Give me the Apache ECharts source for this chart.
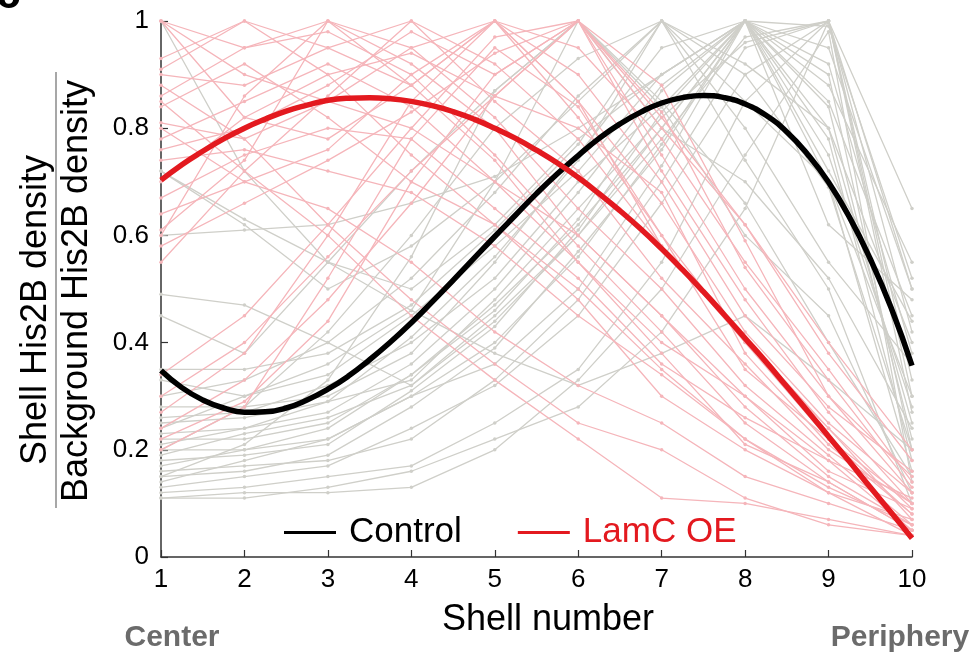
<!DOCTYPE html>
<html>
<head>
<meta charset="utf-8">
<script src="https://cdn.jsdelivr.net/npm/echarts@6/dist/echarts.min.js"></script>
<style>
html,body{margin:0;padding:0;background:#fff;}
#chart{width:976px;height:659px;}
</style>
</head>
<body>
<div id="chart"></div>
<script>
// ---- data ----
const shellNumbers = [1, 2, 3, 4, 5, 6, 7, 8, 9, 10];
const yTicks = [0, 0.2, 0.4, 0.6, 0.8, 1];

// individual control nuclei (grey)
const controlTraces = [
  [1.00, 0.72, 0.55, 0.50, 0.62, 0.78, 0.90, 1.00, 0.85, 0.45],
  [0.72, 0.62, 0.50, 0.58, 0.70, 0.85, 1.00, 0.92, 0.80, 0.40],
  [0.60, 0.61, 0.62, 0.66, 0.71, 0.80, 0.90, 1.00, 0.95, 0.50],
  [0.49, 0.47, 0.40, 0.32, 0.44, 0.60, 0.80, 1.00, 0.90, 0.20],
  [0.35, 0.35, 0.38, 0.47, 0.61, 0.77, 1.00, 0.85, 0.70, 0.30],
  [0.33, 0.30, 0.34, 0.45, 0.58, 0.72, 0.90, 1.00, 0.62, 0.48],
  [0.30, 0.33, 0.40, 0.52, 0.68, 0.86, 1.00, 0.80, 0.55, 0.36],
  [0.28, 0.28, 0.30, 0.38, 0.55, 0.75, 0.95, 1.00, 0.72, 0.44],
  [0.26, 0.27, 0.32, 0.40, 0.52, 0.70, 0.84, 1.00, 0.99, 0.52],
  [0.25, 0.26, 0.29, 0.33, 0.48, 0.65, 0.82, 0.96, 1.00, 0.65],
  [0.23, 0.24, 0.27, 0.36, 0.50, 0.68, 0.88, 1.00, 0.75, 0.28],
  [0.22, 0.22, 0.25, 0.34, 0.47, 0.62, 0.80, 1.00, 0.84, 0.22],
  [0.21, 0.24, 0.29, 0.41, 0.56, 0.74, 1.00, 0.90, 0.69, 0.20],
  [0.20, 0.20, 0.22, 0.30, 0.40, 0.56, 0.77, 1.00, 0.88, 0.55],
  [0.19, 0.23, 0.26, 0.32, 0.45, 0.60, 0.78, 0.97, 1.00, 0.50],
  [0.18, 0.19, 0.21, 0.31, 0.43, 0.61, 0.83, 1.00, 0.80, 0.25],
  [0.17, 0.20, 0.24, 0.34, 0.46, 0.63, 0.87, 1.00, 0.70, 0.16],
  [0.16, 0.17, 0.18, 0.22, 0.33, 0.48, 0.70, 0.95, 1.00, 0.42],
  [0.15, 0.16, 0.19, 0.28, 0.39, 0.57, 0.76, 1.00, 0.78, 0.18],
  [0.14, 0.18, 0.22, 0.30, 0.36, 0.50, 0.73, 1.00, 0.92, 0.38],
  [0.13, 0.15, 0.17, 0.24, 0.32, 0.45, 0.66, 0.90, 1.00, 0.30],
  [0.12, 0.13, 0.15, 0.17, 0.25, 0.35, 0.55, 0.85, 1.00, 0.33],
  [0.11, 0.12, 0.12, 0.13, 0.20, 0.33, 0.50, 0.75, 0.98, 0.14],
  [0.11, 0.11, 0.13, 0.16, 0.22, 0.28, 0.42, 0.65, 1.00, 0.27],
  [0.24, 0.30, 0.36, 0.46, 0.70, 1.00, 0.84, 0.60, 0.45, 0.12],
  [0.20, 0.28, 0.42, 0.60, 0.80, 0.93, 1.00, 0.74, 0.50, 0.10],
  [0.15, 0.21, 0.33, 0.56, 0.87, 1.00, 0.85, 0.66, 0.40, 0.15],
  [0.45, 0.38, 0.55, 0.72, 0.87, 1.00, 0.80, 0.70, 0.52, 0.24],
  [0.72, 0.63, 0.55, 0.46, 0.38, 0.32, 0.38, 0.45, 0.33, 0.20]
];

// individual LamC OE nuclei (pink)
const lamcTraces = [
  [1.00, 0.90, 0.85, 0.80, 0.70, 0.55, 0.40, 0.30, 0.18, 0.05],
  [1.00, 0.95, 1.00, 0.92, 0.80, 0.60, 0.45, 0.28, 0.15, 0.06],
  [1.00, 0.82, 0.78, 0.88, 1.00, 0.82, 0.60, 0.35, 0.22, 0.08],
  [0.91, 1.00, 0.90, 0.75, 0.62, 0.50, 0.35, 0.22, 0.12, 0.04],
  [0.90, 0.88, 0.95, 1.00, 0.85, 0.72, 0.52, 0.36, 0.20, 0.10],
  [0.86, 0.95, 0.98, 0.90, 0.75, 0.58, 0.42, 0.25, 0.14, 0.05],
  [0.84, 0.92, 0.82, 0.70, 0.62, 0.48, 0.30, 0.20, 0.12, 0.07],
  [0.81, 0.78, 0.85, 0.95, 1.00, 0.85, 0.66, 0.42, 0.25, 0.12],
  [0.78, 0.85, 0.92, 0.84, 0.70, 0.60, 0.45, 0.30, 0.16, 0.09],
  [0.76, 0.80, 0.88, 0.98, 0.90, 1.00, 0.75, 0.50, 0.30, 0.15],
  [0.74, 0.76, 0.72, 0.68, 0.58, 0.45, 0.34, 0.22, 0.13, 0.06],
  [0.70, 0.82, 0.90, 0.94, 0.86, 0.80, 0.68, 0.38, 0.21, 0.08],
  [0.67, 0.75, 0.80, 0.78, 0.65, 0.52, 0.36, 0.26, 0.18, 0.11],
  [0.64, 0.70, 0.76, 0.90, 1.00, 0.95, 0.78, 0.55, 0.35, 0.14],
  [0.61, 0.74, 1.00, 0.95, 0.82, 0.65, 0.50, 0.32, 0.19, 0.06],
  [0.58, 0.66, 0.74, 0.83, 0.94, 1.00, 0.72, 0.48, 0.27, 0.10],
  [0.55, 0.72, 0.86, 1.00, 0.92, 0.78, 0.58, 0.40, 0.24, 0.09],
  [0.60, 0.86, 1.00, 0.88, 0.74, 0.55, 0.38, 0.21, 0.14, 0.05],
  [0.34, 0.45, 0.62, 0.80, 0.97, 1.00, 0.80, 0.62, 0.38, 0.18],
  [0.30, 0.40, 0.56, 0.72, 0.86, 1.00, 0.88, 0.59, 0.30, 0.12],
  [0.27, 0.38, 0.60, 0.85, 1.00, 0.90, 0.70, 0.45, 0.28, 0.16],
  [0.24, 0.33, 0.48, 0.66, 0.86, 1.00, 0.82, 0.62, 0.40, 0.20],
  [0.22, 0.29, 0.44, 0.70, 0.90, 1.00, 0.83, 0.54, 0.33, 0.13],
  [0.20, 0.28, 0.52, 0.78, 0.95, 0.84, 0.60, 0.40, 0.22, 0.10],
  [0.85, 0.72, 0.60, 0.45, 0.33, 0.22, 0.11, 0.10, 0.07, 0.04],
  [0.88, 0.78, 0.62, 0.48, 0.36, 0.25, 0.20, 0.11, 0.06, 0.04],
  [0.80, 0.70, 0.65, 0.55, 0.42, 0.32, 0.25, 0.15, 0.10, 0.05],
  [0.93, 1.00, 0.95, 0.88, 1.00, 0.85, 0.58, 0.41, 0.24, 0.07]
];

// fitted mean curves, read at quarter-shell steps
const fitX = [1, 1.25, 1.5, 1.75, 2, 2.25, 2.5, 2.75, 3, 3.25, 3.5, 3.75, 4, 4.25, 4.5, 4.75, 5,
  5.25, 5.5, 5.75, 6, 6.25, 6.5, 6.75, 7, 7.25, 7.5, 7.75, 8, 8.25, 8.5, 8.75, 9, 9.25, 9.5, 9.75, 10];
const controlFit = [0.348, 0.316, 0.293, 0.278, 0.270, 0.271, 0.278, 0.293, 0.313, 0.338, 0.368, 0.401,
  0.437, 0.476, 0.516, 0.557, 0.598, 0.638, 0.678, 0.715, 0.749, 0.781, 0.808, 0.830, 0.847, 0.857,
  0.861, 0.857, 0.845, 0.824, 0.793, 0.751, 0.699, 0.634, 0.556, 0.465, 0.357];
const lamcFit = [0.703, 0.732, 0.757, 0.780, 0.800, 0.817, 0.832, 0.843, 0.852, 0.856, 0.857, 0.855,
  0.850, 0.842, 0.831, 0.817, 0.800, 0.781, 0.759, 0.735, 0.708, 0.678, 0.646, 0.612, 0.575, 0.536,
  0.495, 0.452, 0.408, 0.364, 0.318, 0.272, 0.225, 0.178, 0.130, 0.083, 0.035];

// ---- chart ----
const FONT = 'Liberation Sans, Arial, Helvetica, sans-serif';
const GREY = '#cfcfc9';
const PINK = '#f5b5ba';
const RED = '#e3191f';

function traceSeries(trace, i, color, prefix) {
  return {
    name: prefix + i,
    type: 'line',
    data: shellNumbers.map((x, k) => [x, trace[k]]),
    lineStyle: { color: color, width: 1.3 },
    itemStyle: { color: color },
    symbol: 'circle',
    symbolSize: 3.5,
    showSymbol: true,
    silent: true,
    z: 2
  };
}

const series = [];
controlTraces.forEach((t, i) => series.push(traceSeries(t, i, GREY, 'ctrl-')));
lamcTraces.forEach((t, i) => series.push(traceSeries(t, i, PINK, 'lamc-')));
series.push({
  name: 'Control', type: 'line', smooth: true, showSymbol: false,
  data: fitX.map((x, k) => [x, controlFit[k]]),
  lineStyle: { color: '#000', width: 5.5 }, itemStyle: { color: '#000' }, z: 5
});
series.push({
  name: 'LamC OE', type: 'line', smooth: true, showSymbol: false,
  data: fitX.map((x, k) => [x, lamcFit[k]]),
  lineStyle: { color: RED, width: 5.5 }, itemStyle: { color: RED }, z: 5
});

const chart = echarts.init(document.getElementById('chart'), null, { renderer: 'canvas' });
chart.setOption({
  animation: false,
  backgroundColor: '#fff',
  textStyle: { fontFamily: FONT },
  grid: { left: 161, right: 64, top: 21, bottom: 102, containLabel: false },
  legend: {
    left: 284, top: 515, padding: 0,
    data: [
      { name: 'Control', textStyle: { color: '#000' } },
      { name: 'LamC OE', textStyle: { color: RED } }
    ],
    icon: 'rect', itemWidth: 52, itemHeight: 3, itemGap: 56,
    textStyle: { fontSize: 35, fontFamily: FONT, padding: [0, 0, 0, 8] },
    selectedMode: false
  },
  xAxis: {
    type: 'value', min: 1, max: 10, interval: 1,
    axisLine: { show: true, lineStyle: { color: '#333', width: 1.5 } },
    axisTick: { show: true, inside: true, length: 7, lineStyle: { color: '#333', width: 1.2 } },
    axisLabel: { color: '#000', fontSize: 26, margin: 10, fontFamily: FONT },
    splitLine: { show: false }
  },
  yAxis: {
    type: 'value', min: yTicks[0], max: yTicks[yTicks.length - 1], interval: 0.2,
    axisLine: { show: true, lineStyle: { color: '#333', width: 1.5 } },
    axisTick: { show: true, inside: true, length: 7, lineStyle: { color: '#333', width: 1.2 } },
    axisLabel: { color: '#000', fontSize: 26, margin: 12, fontFamily: FONT },
    splitLine: { show: false }
  },
  graphic: [
    { type: 'text', left: -4, top: -26, style: { text: 'c', fontSize: 44, fontWeight: 'bold', fill: '#000', fontFamily: FONT } },
    { type: 'text', x: 36, y: 310, rotation: Math.PI / 2,
      style: { text: 'Shell His2B density', fontSize: 36, fill: '#000', fontFamily: FONT, align: 'center', verticalAlign: 'middle' } },
    { type: 'line', shape: { x1: 56, y1: 72, x2: 56, y2: 508 }, style: { stroke: '#8a8a8a', lineWidth: 1.5 } },
    { type: 'text', x: 77, y: 291, rotation: Math.PI / 2,
      style: { text: 'Background His2B density', fontSize: 36, fill: '#000', fontFamily: FONT, align: 'center', verticalAlign: 'middle' } },
    { type: 'text', x: 548, y: 620,
      style: { text: 'Shell number', fontSize: 36, fill: '#000', fontFamily: FONT, align: 'center', verticalAlign: 'middle' } },
    { type: 'text', x: 172, y: 638,
      style: { text: 'Center', fontSize: 30, fontWeight: 'bold', fill: '#6b6b6b', fontFamily: FONT, align: 'center', verticalAlign: 'middle' } },
    { type: 'text', x: 900, y: 638,
      style: { text: 'Periphery', fontSize: 30, fontWeight: 'bold', fill: '#6b6b6b', fontFamily: FONT, align: 'center', verticalAlign: 'middle' } }
  ],
  series: series
});
</script>
</body>
</html>
